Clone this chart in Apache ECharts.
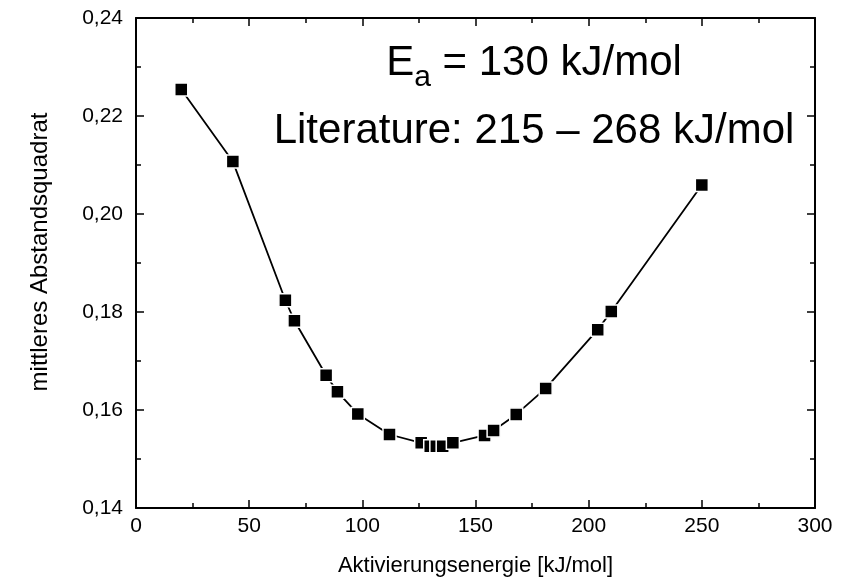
<!DOCTYPE html>
<html>
<head>
<meta charset="utf-8">
<script src="https://cdn.jsdelivr.net/npm/echarts@6/dist/echarts.min.js"></script>
<style>html,body{margin:0;padding:0;background:#fff}#c{width:843px;height:583px}</style>
</head>
<body>
<div id="c"></div>
<script>
// Data
const energies = [20, 42.8, 66, 70, 84, 89, 98, 112, 126, 130, 132.7, 135.5, 140, 154, 158, 168, 181, 204, 210, 250];
const deviations = [0.2254, 0.2107, 0.1824, 0.1782, 0.1671, 0.1637, 0.1592, 0.1550, 0.1533, 0.1526, 0.1526, 0.1526, 0.1533, 0.1548, 0.1558, 0.1591, 0.1644, 0.1764, 0.1801, 0.2059];
const xTitle = 'Aktivierungsenergie [kJ/mol]';
const yTitle = 'mittleres Abstandsquadrat';
const note1 = '{n|E}{s|a}{n| = 130 kJ/mol}';
const note2 = 'Literature: 215 – 268 kJ/mol';

const FONT = '"Liberation Sans", Arial, Helvetica, sans-serif';
const chart = echarts.init(document.getElementById('c'));
const points = energies.map((e, i) => [e, deviations[i]]);

const tickCommon = {
  axisLine: { show: true, onZero: false, lineStyle: { color: '#000', width: 2 } },
  axisTick: { show: true, inside: true, length: 8, lineStyle: { color: '#000', width: 1.5 } },
  minorTick: { show: true, splitNumber: 2, length: 5, lineStyle: { color: '#000', width: 1.5 } },
  splitLine: { show: false },
  minorSplitLine: { show: false }
};

chart.setOption({
  animation: false,
  backgroundColor: '#fff',
  grid: { left: 136, right: 28, top: 18, bottom: 75, containLabel: false, outerBoundsMode: 'none' },
  xAxis: [
    Object.assign({
      type: 'value', min: 0, max: 300, interval: 50, position: 'bottom',
      name: xTitle, nameLocation: 'middle', nameGap: 47,
      nameTextStyle: { fontFamily: FONT, fontSize: 22, color: '#000' },
      axisLabel: { fontFamily: FONT, fontSize: 21, color: '#000', margin: 8 }
    }, tickCommon),
    Object.assign({
      type: 'value', min: 0, max: 300, interval: 50, position: 'top',
      axisLabel: { show: false }
    }, tickCommon)
  ],
  yAxis: [
    Object.assign({
      type: 'value', min: 0.14, max: 0.24, interval: 0.02, position: 'left',
      name: yTitle, nameLocation: 'middle', nameGap: 84, nameRotate: 90,
      nameTextStyle: { fontFamily: FONT, fontSize: 24, color: '#000', padding: [0, 0, 0, 22] },
      axisLabel: { fontFamily: FONT, fontSize: 21, color: '#000', margin: 13,
        formatter: v => v.toFixed(2).replace('.', ',') }
    }, tickCommon),
    Object.assign({
      type: 'value', min: 0.14, max: 0.24, interval: 0.02, position: 'right',
      axisLabel: { show: false }
    }, tickCommon)
  ],
  series: [{
    type: 'line',
    data: points,
    xAxisIndex: 0, yAxisIndex: 0,
    symbol: 'rect', symbolSize: 13,
    showAllSymbol: true,
    lineStyle: { color: '#000', width: 1.8 },
    itemStyle: { color: '#000', borderColor: '#fff', borderWidth: 1.5 },
    z: 3
  }],
  graphic: [
    {
      type: 'text', x: 534, y: 42,
      style: {
        text: note1, x: 0, y: 0, align: 'center', verticalAlign: 'top',
        fontFamily: FONT, fill: '#000',
        rich: {
          n: { fontFamily: FONT, fontSize: 42, lineHeight: 48, verticalAlign: 'top', color: '#000' },
          s: { fontFamily: FONT, fontSize: 30, lineHeight: 30, padding: [21, 0, 0, 0], verticalAlign: 'top', color: '#000' }
        }
      }
    },
    {
      type: 'text', x: 534, y: 110,
      style: { text: note2, x: 0, y: 0, align: 'center', verticalAlign: 'top', fontFamily: FONT, fontSize: 42, fill: '#000' }
    }
  ]
});
</script>
</body>
</html>
